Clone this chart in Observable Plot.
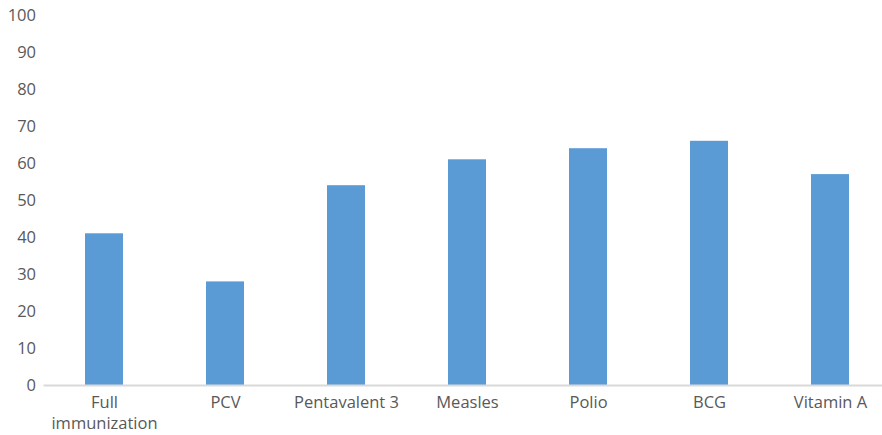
<!DOCTYPE html>
<html>
<head>
<meta charset="utf-8">
<script src="https://cdn.jsdelivr.net/npm/d3@7"></script>
<script src="https://cdn.jsdelivr.net/npm/@observablehq/plot@0.6"></script>
<style>
  html, body { margin: 0; padding: 0; background: #fff; overflow: hidden; }
  #chart svg { display: block; }
</style>
</head>
<body>
<div id="chart"></div>
<script>
const categories = ["Full immunization", "PCV", "Pentavalent 3", "Measles", "Polio", "BCG", "Vitamin A"];
const tickLabels = ["Full\nimmunization", "PCV", "Pentavalent 3", "Measles", "Polio", "BCG", "Vitamin A"];
const values = [41, 28, 54, 61, 64, 66, 57];
const yTicks = [0, 10, 20, 30, 40, 50, 60, 70, 80, 90, 100];

const data = categories.map((c, i) => ({category: c, value: values[i]}));
const labelOf = new Map(categories.map((c, i) => [c, tickLabels[i]]));

const chart = Plot.plot({
  width: 882,
  height: 435,
  marginTop: 15,
  marginBottom: 50,
  marginLeft: 43.5,
  marginRight: 0,
  style: {fontFamily: "'Open Sans', Lato, sans-serif", fontSize: "16.5px", color: "#595959", background: "#fff"},
  x: {domain: categories, range: [43.5, 890.5], paddingInner: 0.686, paddingOuter: 0.343, label: null},
  y: {domain: [0, 100], label: null},
  marks: [
    Plot.barY(data, {x: "category", y: "value", fill: "#5B9BD5"}),
    Plot.ruleY([0], {stroke: "#d9d9d9", strokeWidth: 2}),
    Plot.axisY({ticks: yTicks, tickSize: 0, tickPadding: 8, label: null, fontSize: 16.5, fill: "#595959"}),
    Plot.axisX({tickSize: 0, tickPadding: 7, label: null, tickFormat: d => labelOf.get(d), lineHeight: 1.3, fontSize: 16.5, fill: "#595959"})
  ]
});
document.getElementById("chart").appendChild(chart);
</script>
</body>
</html>
